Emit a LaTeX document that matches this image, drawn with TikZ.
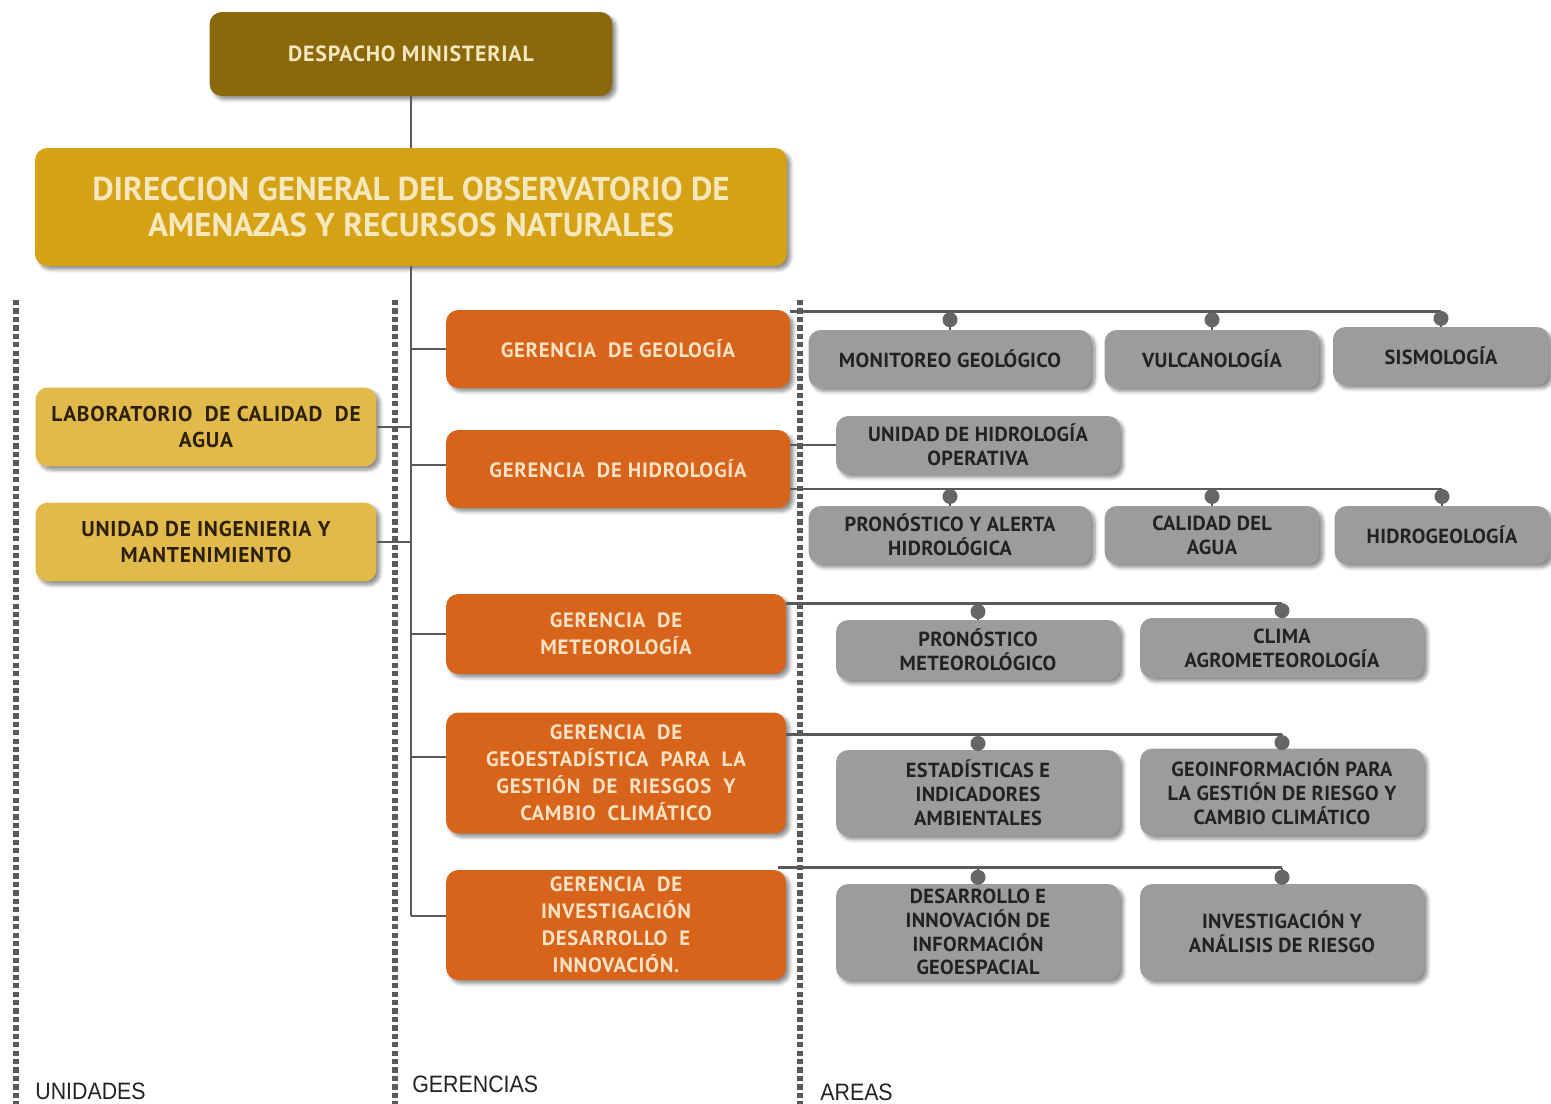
\documentclass[tikz,border=0pt]{standalone}
\usepackage{fontspec}
\setmainfont{PT Sans}
\newfontfamily\boxfont[LetterSpace=3.5]{PT Sans}
\newfontfamily\areafont[LetterSpace=1.5]{PT Sans}
\newfontfamily\dirfont{PT Sans}
\newfontfamily\colfont[FakeStretch=0.9]{Liberation Sans}
\usetikzlibrary{positioning,calc,shadows.blur}
\definecolor{olivebox}{HTML}{8A690D}
\definecolor{goldbox}{HTML}{D4A214}
\definecolor{rust}{HTML}{D8631B}
\definecolor{sand}{HTML}{E2BA4C}
\definecolor{slate}{HTML}{9C9C9C}
\definecolor{cream}{HTML}{F6E7BC}
\definecolor{peach}{HTML}{FAE2C4}
\definecolor{ink}{HTML}{222222}
\definecolor{umber}{HTML}{2C2108}
\definecolor{wire}{HTML}{5A5A5A}
\definecolor{dotgray}{HTML}{666666}

\begin{document}
\begin{tikzpicture}[x=0.02cm, y=-0.02cm,
  box/.style={rounded corners=7pt, align=center, inner sep=2pt,
    blur shadow={shadow xshift=2pt, shadow yshift=-2pt, shadow blur steps=6, shadow opacity=45}},
  despbox/.style={box, fill=olivebox, text=cream, minimum width=8.06cm, minimum height=1.68cm,
    font=\boxfont\bfseries\fontsize{12.5}{14}\selectfont},
  dirbox/.style={box, fill=goldbox, text=cream, minimum width=15.04cm, minimum height=2.36cm,
    font=\dirfont\bfseries\fontsize{18.8}{20}\selectfont},
  gerbox/.style={box, fill=rust, text=peach, minimum width=6.88cm,
    font=\boxfont\bfseries\fontsize{11.8}{15.3}\selectfont},
  unibox/.style={box, fill=sand, text=umber, minimum width=6.82cm, minimum height=1.58cm,
    font=\boxfont\bfseries\fontsize{12.2}{15.3}\selectfont},
  areabox/.style={box, fill=slate, text=ink, minimum height=1.16cm,
    font=\areafont\bfseries\fontsize{11.6}{13.6}\selectfont},
  link/.style={draw=wire, line width=1.2pt},
  bus/.style={draw=wire, line width=1.6pt},
  dot/.style={circle, fill=dotgray, inner sep=0pt, minimum size=0.3cm},
  divider/.style={draw=wire, line width=3.2pt, dash pattern=on 3pt off 1.8pt},
  colname/.style={font=\colfont\fontsize{13.5}{15}\selectfont, text=ink, inner sep=0pt}]
  \useasboundingbox (0,0) rectangle (1551,1104);

  % columnas
  \foreach \xd in {16,395,800}
    \draw[divider] (\xd,300) -- (\xd,1104);
  \node[colname, anchor=base west] (cunid) at (35,1099) {UNIDADES};
  \node[colname, anchor=base west] (cger) at (412,1092) {GERENCIAS};
  \node[colname, anchor=base west] (carea) at (820,1100) {AREAS};

  % direccion
  \node[despbox] (desp) at (411,54) {DESPACHO MINISTERIAL};
  \node[dirbox] (dir) at (411,207) {DIRECCION GENERAL DEL OBSERVATORIO DE\\AMENAZAS Y RECURSOS NATURALES};

  % gerencias
  \node[gerbox, minimum height=1.56cm] (ggeo) at (618,349) {GERENCIA \ DE GEOLOGÍA};
  \node[gerbox, minimum height=1.56cm] (ghid) at (618,469) {GERENCIA \ DE HIDROLOGÍA};
  \node[gerbox, minimum height=1.6cm, minimum width=6.8cm] (gmet) at (616,634) {GERENCIA \ DE\\METEOROLOGÍA};
  \node[gerbox, minimum height=2.42cm, minimum width=6.8cm] (gest) at (616,773)
    {GERENCIA \ DE\\GEOESTADÍSTICA \ PARA \ LA\\GESTIÓN \ DE \ RIESGOS \ Y\\CAMBIO \ CLIMÁTICO};
  \node[gerbox, minimum height=2.2cm, minimum width=6.8cm] (ginv) at (616,925)
    {GERENCIA \ DE\\INVESTIGACIÓN\\DESARROLLO \ E\\INNOVACIÓN.};

  % unidades
  \node[unibox] (ulab) at (206,427) {LABORATORIO \ DE CALIDAD \ DE\\AGUA};
  \node[unibox] (uing) at (206,542) {UNIDAD DE INGENIERIA Y\\MANTENIMIENTO};

  % areas
  \node[areabox, minimum width=5.66cm] (amon) at (950,359) {MONITOREO GEOLÓGICO};
  \node[areabox, minimum width=4.3cm] (avul) at (1212,359) {VULCANOLOGÍA};
  \node[areabox, minimum width=4.32cm] (asis) at (1441,356) {SISMOLOGÍA};
  \node[areabox, minimum width=5.68cm] (aope) at (978,445) {UNIDAD DE HIDROLOGÍA\\OPERATIVA};
  \node[areabox, minimum width=5.66cm] (aalr) at (950,535) {PRONÓSTICO Y ALERTA\\HIDROLÓGICA};
  \node[areabox, minimum width=4.3cm] (acal) at (1212,535) {CALIDAD DEL\\AGUA};
  \node[areabox, minimum width=4.3cm] (ahgl) at (1442,535) {HIDROGEOLOGÍA};
  \node[areabox, minimum width=5.68cm, minimum height=1.2cm] (apmt) at (978,650) {PRONÓSTICO\\METEOROLÓGICO};
  \node[areabox, minimum width=5.68cm, minimum height=1.2cm] (acli) at (1282,648) {CLIMA\\AGROMETEOROLOGÍA};
  \node[areabox, minimum width=5.68cm, minimum height=1.72cm] (aeia) at (978,793) {ESTADÍSTICAS E\\INDICADORES\\AMBIENTALES};
  \node[areabox, minimum width=5.68cm, minimum height=1.74cm] (agrc) at (1282,792) {GEOINFORMACIÓN PARA\\LA GESTIÓN DE RIESGO Y\\CAMBIO CLIMÁTICO};
  \node[areabox, minimum width=5.68cm, minimum height=1.92cm] (adig) at (978,932) {DESARROLLO E\\INNOVACIÓN DE\\INFORMACIÓN\\GEOESPACIAL};
  \node[areabox, minimum width=5.68cm, minimum height=1.92cm] (aiar) at (1282,932) {INVESTIGACIÓN Y\\ANÁLISIS DE RIESGO};

  % tronco y ramas
  \coordinate (tgeo) at (ggeo.west);
  \coordinate (thid) at ([yshift=0.08cm]ghid.west);
  \coordinate (tmet) at (gmet.west);
  \coordinate (test) at ([yshift=0.32cm]gest.west);
  \coordinate (tinv) at ([yshift=0.18cm]ginv.west);
  \draw[link] (desp) -- (dir);
  \draw[link] (dir.south) -- (dir.south |- tinv);
  \foreach \t in {tgeo,thid,tmet,test,tinv}
    \draw[link] (dir.south |- \t) -- (\t);
  \draw[link] (ulab.east) -- (ulab.east -| dir.south);
  \draw[link] (uing.east) -- (uing.east -| dir.south);

  % barras de areas
  \coordinate (bgeo) at ([yshift=-0.04cm]ggeo.north east);
  \coordinate (bhid) at ([yshift=-0.4cm]ghid.east);
  \coordinate (bmet) at ([yshift=-0.2cm]gmet.north east);
  \coordinate (best) at ([yshift=-0.44cm]gest.north east);
  \coordinate (binv) at ([xshift=-0.16cm, yshift=0.04cm]ginv.north east);
  \draw[bus] (bgeo) -- (bgeo -| asis.north);
  \draw[bus] (bhid) -- (bhid -| ahgl.north);
  \draw[bus] (bmet) -- (bmet -| acli.north);
  \draw[bus] (best) -- (best -| agrc.north);
  \draw[bus] (binv) -- (binv -| aiar.north);
  \foreach \a in {amon,avul,asis}
    \draw[link] (bgeo -| \a.north) -- (\a.north) node[dot, pos=0.45] {};
  \foreach \a in {aalr,acal,ahgl}
    \draw[link] (bhid -| \a.north) -- (\a.north) node[dot, pos=0.45] {};
  \foreach \a in {apmt,acli}
    \draw[link] (bmet -| \a.north) -- (\a.north) node[dot, pos=0.5] {};
  \foreach \a in {aeia,agrc}
    \draw[link] (best -| \a.north) -- (\a.north) node[dot, pos=0.6] {};
  \foreach \a in {adig,aiar}
    \draw[link] (binv -| \a.north) -- (\a.north) node[dot, pos=0.6] {};
  \draw[link] (ghid.east |- aope.west) -- (aope.west);
\end{tikzpicture}
\end{document}
